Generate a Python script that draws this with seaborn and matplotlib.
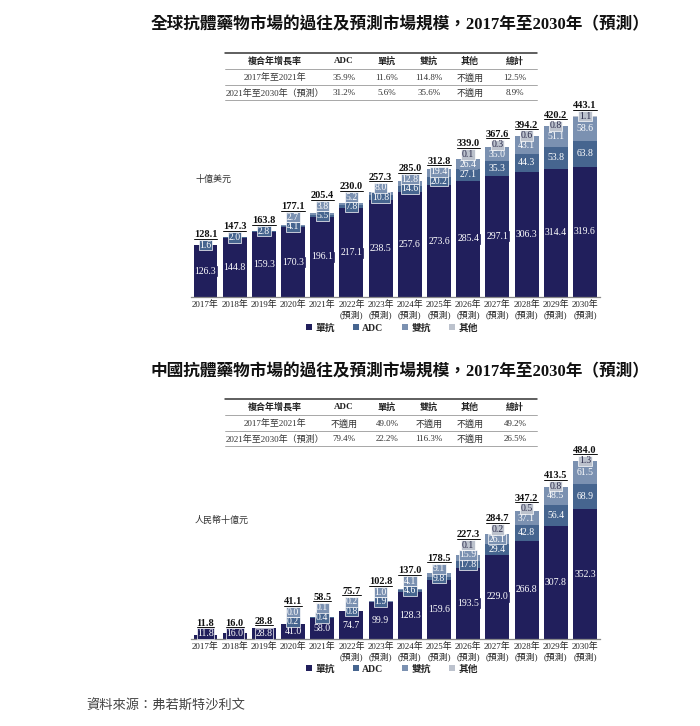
import numpy as np
import pandas as pd
import matplotlib
matplotlib.use('Agg')
import matplotlib.pyplot as plt
import seaborn as sns
from matplotlib.lines import Line2D
from matplotlib.patches import Patch

sns.set_theme(style='white')
FAM = ['Liberation Serif', 'Noto Sans CJK TC', 'DejaVu Sans']
plt.rcParams['font.family'] = FAM

nan = np.nan

# ---------------- data ----------------
years = ['2017', '2018', '2019', '2020', '2021', '2022', '2023',
         '2024', '2025', '2026', '2027', '2028', '2029', '2030']
is_forecast = [False] * 5 + [True] * 9
series_names = ['單抗', 'ADC', '雙抗', '其他']

g_mab = [126.3, 144.8, 159.3, 170.3, 196.1, 217.1, 238.5, 257.6, 273.6, 285.4, 297.1, 306.3, 314.4, 319.6]
g_adc = [1.6, 2.0, 2.8, 4.1, 5.5, 7.8, 10.8, 14.6, 20.2, 27.1, 35.3, 44.3, 53.8, 63.8]
g_bis = [nan, nan, nan, 2.7, 3.8, 5.2, 8.0, 12.8, 19.4, 26.4, 35.0, 43.1, 51.1, 58.6]
g_oth = [nan, nan, nan, nan, nan, nan, nan, nan, nan, 0.1, 0.3, 0.6, 0.8, 1.1]
g_total = [128.1, 147.3, 163.8, 177.1, 205.4, 230.0, 257.3, 285.0, 312.8, 339.0, 367.6, 394.2, 420.2, 443.1]

c_mab = [11.8, 16.0, 28.8, 41.0, 58.0, 74.7, 99.9, 128.3, 159.6, 193.5, 229.0, 266.8, 307.8, 352.3]
c_adc = [nan, nan, nan, 0.2, 0.4, 0.8, 1.9, 4.6, 9.8, 17.8, 29.4, 42.8, 56.4, 68.9]
c_bis = [nan, nan, nan, 0.0, 0.1, 0.2, 1.0, 4.1, 9.1, 15.9, 26.1, 37.1, 48.5, 61.5]
c_oth = [nan, nan, nan, nan, nan, nan, nan, nan, nan, 0.1, 0.2, 0.5, 0.8, 1.3]
c_total = [11.8, 16.0, 28.8, 41.1, 58.5, 75.7, 102.8, 137.0, 178.5, 227.3, 284.7, 347.2, 413.5, 484.0]

table_header = ['複合年增長率', 'ADC', '單抗', '雙抗', '其他', '總計']
g_table_rows = [['2017年至2021年', '35.9%', '11.6%', '114.8%', '不適用', '12.5%'],
                ['2021年至2030年（預測）', '31.2%', '5.6%', '35.6%', '不適用', '8.9%']]
c_table_rows = [['2017年至2021年', '不適用', '49.0%', '不適用', '不適用', '49.2%'],
                ['2021年至2030年（預測）', '79.4%', '22.2%', '116.3%', '不適用', '26.5%']]

g_title = '全球抗體藥物市場的過往及預測市場規模，2017年至2030年（預測）'
c_title = '中國抗體藥物市場的過往及預測市場規模，2017年至2030年（預測）'
g_unit = '十億美元'
c_unit = '人民幣十億元'
source = '資料來源：弗若斯特沙利文'

colors = ['#211f5c', '#46658f', '#7b91b1', '#bcc2cd']
label_colors = ['white', 'white', 'white', '#2a2a4a']

# ---------------- layout ----------------
W, H = 700, 726
fig = plt.figure(figsize=(W / 100, H / 100), dpi=100)
fig.patch.set_facecolor('white')


def fx(x):
    return x / W


def fy(y):
    return 1 - y / H


AX_L, AX_R = 190.9, 599.5
AX_H = 200.0
tick_labels = [f'{y}年\n(預測)' if f else f'{y}年' for y, f in zip(years, is_forecast)]
total_texts = []


def draw_chart(base_y, ymax, series, totals):
    ax = fig.add_axes([fx(AX_L), fy(base_y), (AX_R - AX_L) / W, AX_H / H])
    ax.set_facecolor('none')
    data = [np.nan_to_num(np.array(s, dtype=float)) for s in series]
    cum = np.cumsum(np.vstack(data), axis=0)
    for k in range(len(series) - 1, -1, -1):
        sns.barplot(x=years, y=cum[k], order=years, color=colors[k], saturation=1,
                    width=0.82, errorbar=None, linewidth=0, ax=ax)
    ax.set_xlim(-0.5, len(years) - 0.5)
    ax.set_ylim(0, ymax)
    for s in ['left', 'top', 'right']:
        ax.spines[s].set_visible(False)
    ax.spines['bottom'].set_color('#8a8a8a')
    ax.spines['bottom'].set_linewidth(0.9)
    ax.set_yticks([])
    ax.set_xlabel('')
    ax.set_ylabel('')
    ax.set_xticks(range(len(years)))
    ax.set_xticklabels(tick_labels, fontsize=6.4, linespacing=1.2, color='#222')
    ax.tick_params(axis='x', length=0, pad=2)

    ppu = AX_H / ymax
    for i in range(len(years)):
        base = 0.0
        prev = None
        for k, s in enumerate(series):
            v = s[i]
            if np.isnan(v):
                continue
            center = base + v / 2
            if prev is None:
                ylab = max(center, 5.5 / ppu)
            else:
                ylab = max(center, prev + 9.6 / ppu)
            shifted = abs(ylab - center) > 1e-9 or v * ppu < 10
            ax.text(i, ylab, f'{v:.1f}', ha='center', va='center', fontsize=7,
                    color=label_colors[k],
                    bbox=dict(boxstyle='square,pad=0.06', fc=colors[k],
                              ec='white' if shifted else colors[k], lw=0.5))
            prev = ylab
            base += v
        top = cum[-1][i]
        ty = top + 7 / ppu
        if prev is not None:
            ty = max(ty, prev + 10.5 / ppu)
        t = ax.text(i, ty, f'{totals[i]:.1f}', ha='center', va='center',
                    fontsize=7.5, fontweight='bold', color='#111')
        total_texts.append(t)
    return ax


def draw_table(top_y, rows):
    x0, x1 = 225, 537
    cols = [275, 344, 387, 429, 470, 515]
    fig.add_artist(Line2D([fx(x0), fx(x1)], [fy(top_y), fy(top_y)], color='#333', lw=1.1))
    for dy in [16, 32, 47]:
        fig.add_artist(Line2D([fx(x0), fx(x1)], [fy(top_y + dy), fy(top_y + dy)],
                              color='#999', lw=0.6))
    for cx, h in zip(cols, table_header):
        fig.text(fx(cx), fy(top_y + 8), h, ha='center', va='center', fontsize=6.5,
                 fontweight='bold', color='#222')
    for r, dy in zip(rows, [25, 40]):
        for cx, v in zip(cols, r):
            fig.text(fx(cx), fy(top_y + dy), v, ha='center', va='center', fontsize=6.5,
                     color='#333')


def draw_legend(y):
    handles = [Patch(fc=c, ec='none', label=n) for c, n in zip(colors, series_names)]
    fig.legend(handles=handles, loc='center', bbox_to_anchor=(fx(392), fy(y)), ncol=4,
               frameon=False, handlelength=0.6, handleheight=0.6, handletextpad=0.35,
               columnspacing=1.9, prop={'size': 7, 'weight': 'bold', 'family': FAM})


# top chart
fig.text(fx(400), fy(25), g_title, ha='center', va='center', fontsize=12, fontweight='bold', color='#111')
draw_table(53, g_table_rows)
fig.text(fx(195), fy(179), g_unit, ha='left', va='center', fontsize=6.5, color='#333')
draw_chart(297, 490, [g_mab, g_adc, g_bis, g_oth], g_total)
draw_legend(328)

# bottom chart
fig.text(fx(400), fy(372), c_title, ha='center', va='center', fontsize=12, fontweight='bold', color='#111')
draw_table(399, c_table_rows)
fig.text(fx(195), fy(520), c_unit, ha='left', va='center', fontsize=6.5, color='#333')
draw_chart(639, 543, [c_mab, c_adc, c_bis, c_oth], c_total)
draw_legend(669)

fig.text(fx(86), fy(706), source, ha='left', va='center', fontsize=9.5, style='italic', color='#444')

# underline the total labels
fig.canvas.draw()
renderer = fig.canvas.get_renderer()
inv = fig.transFigure.inverted()
for t in total_texts:
    bb = t.get_window_extent(renderer)
    (ax0, ay0), (ax1, _) = inv.transform([(bb.x0, bb.y0 + 0.5), (bb.x1, bb.y0 + 0.5)])
    fig.add_artist(Line2D([ax0, ax1], [ay0, ay0], color='#111', lw=0.7))

fig.savefig('out.png', dpi=100)
